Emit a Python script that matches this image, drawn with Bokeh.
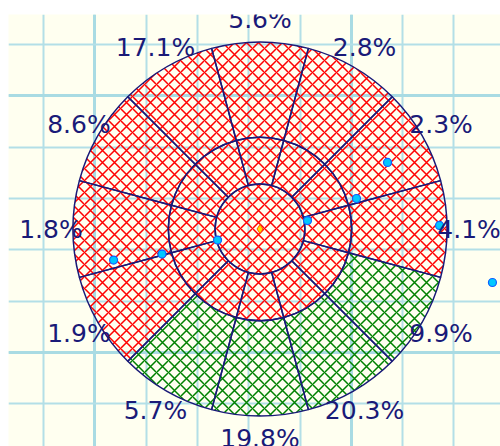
import numpy as np
from bokeh.plotting import figure
from bokeh.models import ColumnDataSource, FixedTicker, Range1d
from bokeh.core.properties import value
from bokeh.embed import file_html
from bokeh.resources import INLINE

# ---- data -------------------------------------------------------------
# 12 direction sectors, clockwise from north (top)
sector_pct = [5.6, 2.8, 2.3, 4.1, 9.9, 20.3, 19.8, 5.7, 1.9, 1.8, 8.6, 17.1]
sector_class = ["red", "red", "red", "red", "green", "green",
                "green", "green", "red", "red", "red", "red"]
# ring radii (outer radius = 1)
ring_inner = 0.24
ring_middle = 0.49
ring_outer = 1.0
# scattered points (x, y in chart units, centre = 0, 0)
point_x = [-0.783, -0.524, -0.227, 0.254, 0.516, 0.682, 0.960, 1.243]
point_y = [-0.166, -0.134, -0.059, 0.045, 0.163, 0.356, 0.019, -0.286]
centre_x = [0.0]
centre_y = [0.0]

# ---- styles -------------------------------------------------------------
NAVY = "#1a1a78"
HATCH = {"red": "#ff0000", "green": "#008000"}
PX = 187.0                      # pixels per chart unit
W, H, LEFT, TOP = 500, 446, 8, 14
CX, CY = 251.5, 214.5           # centre in frame pixels (from left/top)
FRAME_W = W - LEFT
FRAME_H = H - TOP

x0 = -CX / PX
x1 = (FRAME_W - CX) / PX
y1 = CY / PX
y0 = -(FRAME_H - CY) / PX

p = figure(width=W, height=H, output_backend="svg", toolbar_location=None,
           x_axis_location=None, y_axis_location=None,
           x_range=Range1d(x0, x1), y_range=Range1d(y0, y1),
           min_border_left=LEFT, min_border_right=0, min_border_bottom=0,
           min_border_top=TOP)
p.outline_line_color = None
p.background_fill_color = "#fffff0"
p.border_fill_color = "white"

# background grid (not aligned with centre)
g = 51.3 / PX
gx0 = (35 - CX) / PX
gy0 = (CY - 30) / PX
xt = [gx0 + g * k for k in range(-1, 11)]
yt = [gy0 - g * k for k in range(-1, 10)]
p.xgrid.ticker = FixedTicker(ticks=[xt[2], xt[7]], minor_ticks=xt)
p.ygrid.ticker = FixedTicker(ticks=[yt[2], yt[7]], minor_ticks=yt)
for gr in (p.xgrid, p.ygrid):
    gr.grid_line_color = "#a9dbe3"
    gr.grid_line_width = 3
    gr.minor_grid_line_color = "#b3dfe7"
    gr.minor_grid_line_width = 2

# sectors
centres = np.array([90 - 30 * i for i in range(12)], dtype=float)
src = ColumnDataSource(dict(
    start=np.radians(centres - 15),
    end=np.radians(centres + 15),
    hatch=[HATCH[c] for c in sector_class],
    label=[f"{v:.1f}%" for v in sector_pct],
    lx=1.118 * np.cos(np.radians(centres)),
    ly=1.118 * np.sin(np.radians(centres)),
))

common = dict(fill_color=None, hatch_pattern="diagonal_cross", hatch_scale=12,
              hatch_weight=1.5, line_color=NAVY, line_width=1.5)

p.annular_wedge(x=0, y=0, inner_radius=ring_middle, outer_radius=ring_outer,
                start_angle="start", end_angle="end",
                hatch_color="hatch", source=src, **common)
p.annular_wedge(x=0, y=0, inner_radius=ring_inner, outer_radius=ring_middle,
                start_angle="start", end_angle="end",
                hatch_color=HATCH["red"], source=src, **common)
p.circle(x=0, y=0, radius=ring_inner, hatch_color=HATCH["red"], **common)

p.scatter(point_x, point_y, marker="circle", size=8,
          fill_color="#00c8ff", line_color="#1060ff", line_width=1.2)
p.scatter(centre_x, centre_y, marker="diamond", size=9,
          fill_color="#ffe000", line_color="#ff5000", line_width=1)

p.text(x="lx", y="ly", text="label", source=src, text_align="center",
       text_baseline="middle", text_font=value("DejaVu Sans"),
       text_font_size="25px", text_color=NAVY)

open("out.html", "w").write(file_html(p, INLINE))
